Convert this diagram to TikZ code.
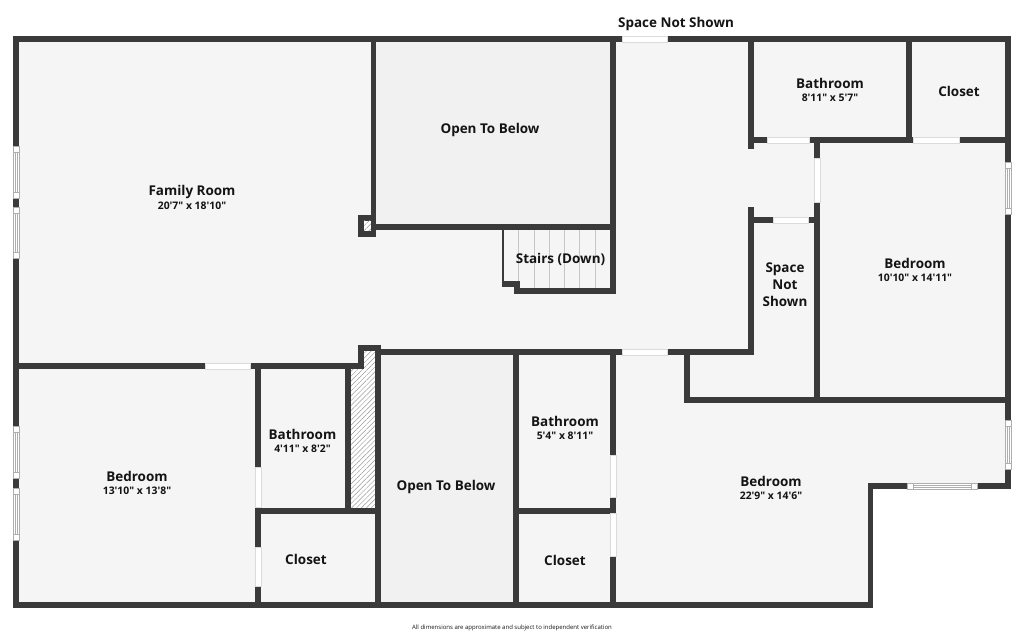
\documentclass[tikz,border=0pt]{standalone}
\usepackage{fontspec}
\usetikzlibrary{patterns.meta}
\newfontfamily\planfont{Open Sans}
\definecolor{wallc}{HTML}{3A3A3A}
\definecolor{floorc}{HTML}{F5F5F5}
\definecolor{openc}{HTML}{F1F1F1}
\definecolor{trimc}{HTML}{AEAEAE}
\definecolor{textc}{HTML}{141414}
\newcommand{\room}[2]{{\bfseries\fontsize{10.1}{12}\selectfont #1}\\[-2.75pt]{\fontsize{7.8}{10}\selectfont\bfseries #2}}

\begin{document}
\begin{tikzpicture}[x=.75pt,y=-.75pt,
 every node/.style={inner sep=0mm,font=\planfont\bfseries\fontsize{10.1}{12.75}\selectfont,text=textc,align=center},
 wall/.style={draw=wallc,line width=4.4pt,line cap=rect,line join=miter},
 doorway/.style={fill=white,draw=trimc!45,line width=.25pt},
 sash/.style={fill=white,draw=trimc,line width=.5pt},
 hatched/.style={pattern={Lines[angle=45,distance=2.6pt,line width=.35pt]},pattern color=gray!80},
 tread/.style={draw=trimc!70,line width=.6pt}]

 \useasboundingbox (0,0) rectangle (1024,634);

 \fill[floorc] (16,39) -- (1008,39) -- (1008,486) -- (870.5,486) -- (870.5,605) -- (16,605) -- cycle;
 \fill[openc] (376,42) rectangle (610,224);
 \fill[openc] (381,355) rectangle (513,602);

 % shafts
 \fill[white] (351,369) -- (364,369) -- (364,351) -- (375,351) -- (375,508) -- (351,508) -- cycle;
 \path[hatched] (351,369) -- (364,369) -- (364,351) -- (375,351) -- (375,508) -- (351,508) -- cycle;
 \fill[wallc] (358,215) rectangle (376,237);
 \fill[white] (364,221) rectangle (371,231);
 \path[hatched] (364,221) rectangle (371,231);

 % stairs
 \foreach \x in {518,534,549,564,579,595}
  \draw[tread] (\x,230) -- (\x,288);
 \draw[draw=wallc,line width=1.1pt] (503,227) -- (503,283);

 % walls
 \draw[wall] (16,39) -- (1008,39) -- (1008,486) -- (870.5,486) -- (870.5,605) -- (16,605) -- cycle;
 \foreach \a/\b/\c/\d in {373.5/39/373.5/227,373.5/227/613/227,613/39/613/291,517/291/613/291,
   517/291/517/284,505/284/517/284,751/39/751/146,751/210/751/352,381/352/751/352,
   751/140/1008/140,909/39/909/140,817/140/817/400,751/220/817/220,687/352/687/400,
   687/400/1008/400,16/366/361/366,361/366/361/348,361/348/378/348,378/348/378/605,
   258/366/258/605,258/511/378/511,348/366/348/511,516/352/516/605,516/511/613/511,
   613/352/613/605}
  \draw[wall] (\a,\b) -- (\c,\d);

 % doors
 \foreach \a/\b/\c/\d in {622/36/667/42,622/349/667/355,205/363/250/369,767/137/809/143,
   913/137/959/143,773/217/808/223,814/158/820/202,255/467/261/507,255/547/261/586,
   610/455/616/497,610/513/616/556}
  \draw[doorway] (\a,\b) rectangle (\c,\d);

 % windows, upright
 \foreach \x/\a/\b in {16/146/198,16/207/258,16/426/478,16/488/540,1008/162/214,1008/420/469}{
  \draw[sash] (\x-3,\a) rectangle (\x+3,\b);
  \draw[sash] (\x-3,\a+6) rectangle (\x+3,\b-6);
  \draw[sash] (\x-1,\a+6) rectangle (\x+1,\b-6);
 }
 % window, lying
 \draw[sash] (907,483) rectangle (977,489);
 \draw[sash] (913,483) rectangle (971,489);
 \draw[sash] (913,485) rectangle (971,487);

 \node (spacetop) at (676,24) {Space Not Shown};
 \node (family) at (192,197.5) {\room{Family Room}{20'7" x 18'10"}};
 \node (openup) at (490,130) {Open To Below};
 \node (stairs) at (560.5,259) {Stairs (Down)};
 \node (bathne) at (830,90) {\room{Bathroom}{8'11" x 5'7"}};
 \node (closetne) at (959,91) {Closet};
 \node (bede) at (915,270) {\room{Bedroom}{10'10" x 14'11"}};
 \node (spacemid) at (785,285) {Space\\Not\\Shown};
 \node (bedw) at (137,483) {\room{Bedroom}{13'10" x 13'8"}};
 \node (bathw) at (302.5,441) {\room{Bathroom}{4'11" x 8'2"}};
 \node (closetw) at (306,559) {Closet};
 \node (opendown) at (446,487) {Open To Below};
 \node (bathm) at (565,428) {\room{Bathroom}{5'4" x 8'11"}};
 \node (closetm) at (565,560) {Closet};
 \node (bedse) at (771,488) {\room{Bedroom}{22'9" x 14'6"}};
 \node[font=\planfont\fontsize{4.5}{6}\selectfont] (note) at (512,628) {All dimensions are approximate and subject to independent verification};
\end{tikzpicture}
\end{document}
